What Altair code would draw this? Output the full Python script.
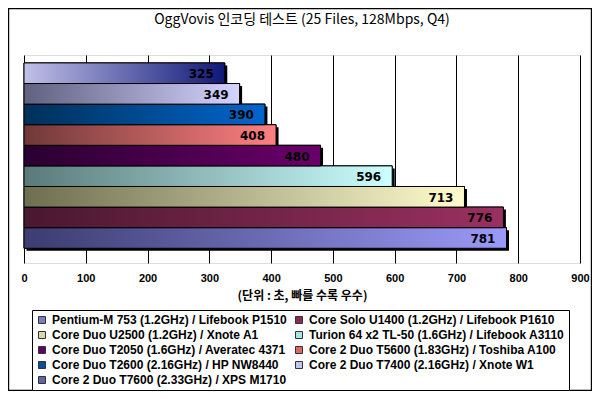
import altair as alt
import pandas as pd

# ---- data (legend order; first item is the bottom bar) ----
names = [
    "Pentium-M 753 (1.2GHz) / Lifebook P1510",
    "Core Solo U1400 (1.2GHz) / Lifebook P1610",
    "Core Duo U2500 (1.2GHz) / Xnote A1",
    "Turion 64 x2 TL-50 (1.6GHz) / Lifebook A3110",
    "Core Duo T2050 (1.6GHz) / Averatec 4371",
    "Core 2 Duo T5600 (1.83GHz) / Toshiba A100",
    "Core Duo T2600 (2.16GHz) / HP NW8440",
    "Core 2 Duo T7400 (2.16GHz) / Xnote W1",
    "Core 2 Duo T7600 (2.33GHz) / XPS M1710",
]
values = [781, 776, 713, 596, 480, 408, 390, 349, 325]
x_ticks = [0, 100, 200, 300, 400, 500, 600, 700, 800, 900]

# ---- styles ----
swatch_colors = ["#7c7cc4", "#8c2a55", "#d8d8b0", "#a8e4e4", "#600060",
                 "#e06464", "#0050a0", "#c4c4f2", "#6464a4"]
grad_left = ["#3c3c70", "#4a1830", "#6e6e50", "#5a7a7a", "#2a0030",
             "#703838", "#00305a", "#606080", "#c0c0e8"]
grad_right = ["#9a9af8", "#9a3060", "#fffccc", "#ccffff", "#6a006a",
              "#ff8080", "#0066cc", "#d4d4ff", "#101878"]

df = pd.DataFrame({"name": names, "value": values})
order_top = list(reversed(names))

# legend is filled column by column (5 rows): reorder so it reads row-wise
legend_order = [names[i] for i in range(0, len(names), 2)] + \
               [names[i] for i in range(1, len(names), 2)]
legend_colors = [swatch_colors[names.index(n)] for n in legend_order]

W, H = 556, 208
PAD = {"left": 16, "top": 47, "right": 12, "bottom": 128}

x_enc = alt.X("value:Q",
              scale=alt.Scale(domain=[0, 900], nice=False),
              axis=alt.Axis(values=x_ticks, grid=True, gridColor="black",
                            gridWidth=1, domain=False, ticks=False,
                            labelFont="Liberation Sans", labelFontSize=11,
                            labelFontWeight="bold", labelColor="black",
                            labelPadding=9, labelFlush=False,
                            title="(단위 : 초, 빠를 수록 우수)",
                            titleFont="Noto Sans CJK KR", titleFontSize=12,
                            titleFontWeight="bold", titleColor="black",
                            titlePadding=7))
y_enc = alt.Y("name:N",
              scale=alt.Scale(domain=order_top, paddingInner=0,
                              paddingOuter=0.55, align=0.35),
              axis=None)

base = alt.Chart(df)

shadow = base.mark_bar(color="black", xOffset=2.5, yOffset=2.5).encode(
    x=x_enc, y=y_enc)

solid = base.mark_bar(stroke="black", strokeWidth=1).encode(
    x=x_enc, y=y_enc,
    color=alt.Color("name:N",
                    scale=alt.Scale(domain=legend_order, range=legend_colors),
                    legend=alt.Legend(title=None, orient="none",
                                      legendX=8, legendY=255,
                                      columns=2, symbolType="square",
                                      symbolSize=49,
                                      symbolStrokeColor="#333333",
                                      symbolStrokeWidth=1,
                                      labelFont="Liberation Sans",
                                      labelFontSize=12,
                                      labelFontWeight="bold",
                                      labelColor="black",
                                      labelLimit=400, labelOffset=4,
                                      columnPadding=6, rowPadding=3,
                                      padding=4, strokeColor="black",
                                      fillColor="white")))

grad_layers = []
for n, c0, c1 in zip(names, grad_left, grad_right):
    g = alt.Gradient(gradient="linear",
                     stops=[alt.GradientStop(color=c0, offset=0),
                            alt.GradientStop(color=c1, offset=1)])
    grad_layers.append(
        base.transform_filter(alt.datum.name == n)
        .mark_bar(fill=g, stroke="black", strokeWidth=1)
        .encode(x=x_enc, y=y_enc))

labels = base.mark_text(align="right", baseline="middle", dx=-11, dy=1,
                        font="DejaVu Sans", fontSize=12, fontWeight="bold",
                        color="black").encode(
    x=x_enc, y=y_enc, text="value:Q")

frame = alt.Chart(pd.DataFrame({"k": [0]})).mark_rect(
    fillOpacity=0, stroke="black", strokeWidth=1.2).encode(
    x=alt.value(-PAD["left"] + 0.6), x2=alt.value(W + PAD["right"] - 0.6),
    y=alt.value(-PAD["top"] + 0.6), y2=alt.value(H + PAD["bottom"] - 0.6))

chart = alt.layer(shadow, solid, *grad_layers, labels, frame).properties(
    width=W, height=H,
    padding=PAD,
    autosize=alt.AutoSizeParams(type="none"),
    title=alt.TitleParams("OggVovis 인코딩 테스트 (25 Files, 128Mbps, Q4)",
                          font="Noto Sans CJK KR", fontSize=14,
                          fontWeight="normal", color="black",
                          frame="group", offset=-19),
).configure_view(stroke="#808080", strokeWidth=1).configure(
    background="white")

chart.save("out.html", embed_options={"renderer": "svg", "actions": False})
